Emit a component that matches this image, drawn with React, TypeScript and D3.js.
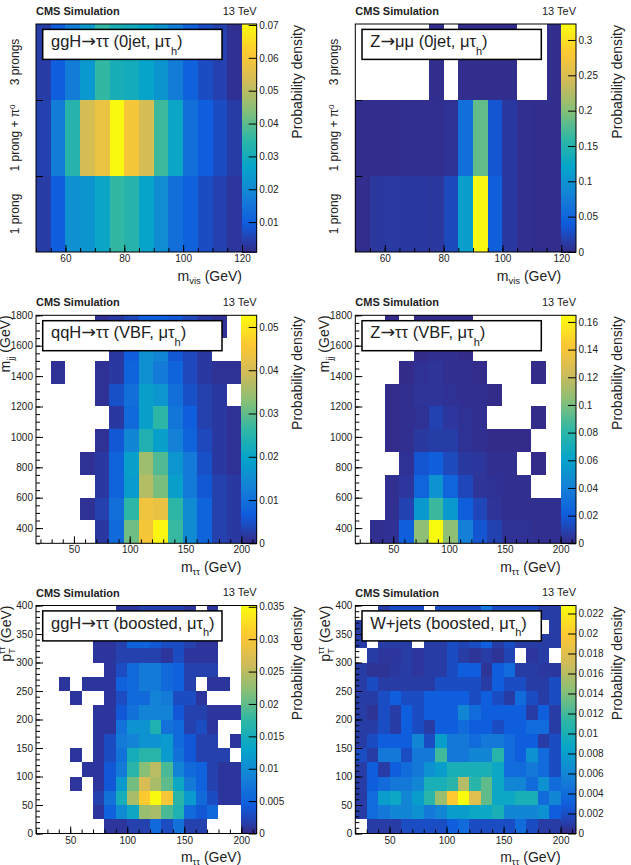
import * as d3 from "d3";
import { useEffect, useRef } from "react";

const FONT = "'Liberation Sans', Arial, sans-serif";

// ROOT's kBird palette
const birdStops = [
  "#352a87", "#0f5cdd", "#1481d6", "#06a4ca", "#2eb7a4",
  "#87bf77", "#d1bb59", "#fec832", "#f9fb0e",
];

const prongLabels = ["1 prong", "1 prong + π", "3 prongs"];

// every grid is written bottom row first, 0 means an empty (white) bin
const ggh0jet = [
  [.004, .010, .022, .023, .028, .036, .034, .027, .021, .014, .011, .007, .005, .003],
  [.005, .017, .034, .054, .058, .070, .060, .054, .037, .028, .014, .010, .007, .004],
  [.004, .010, .017, .024, .036, .031, .030, .027, .023, .017, .011, .007, .005, .002],
];

const zmm0jet = [
  [.003, .011, .013, .012, .012, .011, .025, .115, .32, .045, .012, .004, .003, .003],
  [.003, .003, .003, .004, .004, .004, .006, .06, .185, .035, .012, .004, .003, .003],
  [0, 0, 0, 0, 0, .003, 0, .003, .003, .003, .003, 0, 0, .003],
];

const qqhVbf = [
  [0, 0, 0, 0, .002, .009, .031, .045, .052, .027, .015, .008, .003, .002],
  [0, 0, 0, .001, .003, .010, .026, .044, .043, .026, .015, .008, .003, .002],
  [0, 0, 0, 0, .002, .008, .018, .037, .032, .019, .012, .006, .003, .002],
  [0, 0, 0, .001, .002, .008, .019, .035, .029, .017, .012, .005, .002, .001],
  [0, 0, 0, 0, .001, .006, .014, .024, .019, .013, .008, .004, .002, .001],
  [0, 0, 0, 0, 0, .002, .009, .019, .026, .011, .007, .003, .002, .001],
  [0, 0, 0, 0, .001, .005, .010, .019, .017, .010, .005, .003, .002, 0],
  [0, .001, 0, 0, .001, .002, .008, .016, .012, .008, .004, .002, .001, .001],
  [0, 0, 0, 0, 0, .002, .007, .016, .014, .006, .004, .002, 0, 0],
  [0, 0, 0, 0, .001, .002, .004, .007, .007, .006, .004, .002, .001, 0],
];

const zttVbf = [
  [0, .002, .003, .022, .105, .165, .105, .040, .018, .010, .003, .003, .002, .002],
  [0, 0, .002, .010, .055, .085, .055, .022, .012, .004, .002, .002, .002, .002],
  [0, 0, .002, .005, .025, .052, .025, .012, .004, .003, .002, .002, 0, 0],
  [0, 0, 0, .003, .018, .023, .013, .006, .005, .002, .002, 0, .001, 0],
  [0, 0, .001, .002, .006, .008, .008, .003, .002, .001, .001, .001, 0, 0],
  [0, 0, .001, .002, .003, .010, .005, .003, .002, 0, 0, 0, .001, 0],
  [0, 0, .001, .002, .004, .004, .003, .002, .002, .001, 0, 0, 0, 0],
  [0, 0, 0, .001, .003, .004, .002, .002, .001, 0, 0, 0, .001, 0],
  [0, 0, 0, 0, .001, .002, .002, .001, 0, 0, 0, 0, 0, 0],
  [0, 0, .001, 0, .001, .001, .001, .001, 0, 0, 0, 0, 0, 0],
];

const gghBoosted = [
  [0, 0, 0, 0, 0, 0, .001, .001, .002, .002, .006, .003, .007, .002, .002, 0, 0, 0],
  [0, 0, 0, 0, 0, .001, .005, .010, .014, .023, .024, .019, .016, .006, .004, .006, 0, 0],
  [0, 0, 0, 0, 0, .002, .007, .015, .024, .031, .035, .030, .017, .012, .006, .003, .001, .001],
  [0, 0, 0, .001, 0, .001, .004, .012, .021, .027, .024, .020, .014, .008, .005, .002, .001, .001],
  [0, 0, 0, 0, .001, .001, .004, .008, .017, .022, .025, .019, .009, .006, .005, .002, .001, .001],
  [0, 0, 0, .001, 0, .001, .003, .007, .015, .017, .017, .012, .007, .004, .002, .002, .002, 0],
  [0, 0, 0, 0, 0, .001, .003, .008, .009, .011, .011, .012, .006, .004, .002, .002, 0, .001],
  [0, 0, 0, 0, 0, .001, .001, .007, .011, .011, .016, .007, .006, .002, .003, .001, 0, 0],
  [0, 0, 0, 0, 0, .001, .001, .004, .007, .009, .009, .009, .004, .002, .002, .001, .001, .001],
  [0, 0, 0, .001, 0, 0, .001, .003, .006, .006, .009, .008, .003, .003, .001, 0, 0, 0],
  [0, 0, .001, 0, .001, .001, .001, .005, .006, .008, .008, .006, .005, .002, 0, .001, .001, 0],
  [0, 0, 0, 0, 0, 0, .001, .003, .006, .008, .008, .006, .005, .002, .002, .002, 0, 0],
  [0, 0, 0, 0, 0, .001, .001, .002, .002, .002, .002, .001, .003, .001, .001, .001, 0, 0],
  [0, 0, 0, 0, 0, .001, .001, .002, .005, .005, .004, .003, .003, .002, .001, .001, 0, 0],
  [0, 0, 0, 0, 0, .001, .001, .002, .002, .003, .003, .002, .002, .001, .001, .001, 0, 0],
  [0, 0, 0, 0, 0, 0, 0, .001, .001, .002, .002, .002, .002, .001, 0, .001, 0, 0],
];

const wjetsBoosted = [
  [0, .001, .001, .001, .002, .002, .002, .002, .003, .004, .002, .002, .002, .002, .004, .002, .001, .001],
  [.001, .004, .005, .006, .006, .007, .005, .006, .008, .008, .009, .009, .010, .006, .006, .006, .007, .003],
  [.001, .004, .008, .009, .006, .008, .011, .015, .020, .0228, .018, .013, .009, .009, .010, .010, .004, .006],
  [.001, .003, .004, .005, .005, .006, .010, .010, .011, .016, .011, .013, .009, .006, .006, .004, .007, .004],
  [.001, .003, .001, .003, .004, .005, .007, .008, .010, .010, .010, .010, .009, .004, .004, .005, .004, .002],
  [.002, .001, .005, .005, .002, .005, .005, .012, .005, .005, .006, .006, .011, .004, .003, .007, .004, .002],
  [.001, .002, .003, .003, .003, .006, .002, .008, .005, .005, .004, .005, .005, .004, .003, .003, .001, .002],
  [.001, .001, .002, .001, .003, .002, .001, .003, .003, .004, .003, .003, .002, .003, .003, .004, .004, .001],
  [.001, .0005, .002, .001, .003, .002, .003, .003, .003, .006, .004, .003, .003, .003, .003, .001, .003, .001],
  [.001, .001, .002, .003, .002, .002, .003, .003, .003, .003, .002, .003, .002, .001, .004, .002, .001, .002],
  [.001, .002, .001, .001, .001, .001, .001, .002, .002, .002, .002, .001, .003, .002, .002, .001, .001, .002],
  [.001, .0005, .0005, .0008, .001, .0007, .001, .001, .002, .003, .003, .0006, .003, .004, .001, .001, .0008, .0008],
  [0, .001, .0007, .0007, .001, .0007, .001, .001, .002, .001, .0006, .001, .0005, .0015, 0, .0007, .001, 0],
  [.001, 0, .001, .001, .001, 0, .001, .001, .002, .0015, .002, .003, .001, .002, .001, .001, .001, .001],
  [.001, .001, .001, .001, .002, .002, .002, .002, .002, .002, .002, .002, .002, .002, .002, .002, 0, .001],
  [0, 0, .001, .002, .002, .002, 0, .002, .002, .002, .002, .005, .002, .002, .002, .002, .001, .001],
];

const panelLefts = [36, 355.3];
const panelTops = [24, 315.3, 605.5];
const panelWidth = 220.7;
const panelHeight = 228;

const massAxis = {
  xDomain: [16, 213.8],
  xEdges: [16, 200],
  xTicks: [50, 100, 150, 200],
  xMinor: d3.range(20, 211, 10),
};
const boostedAxis = {
  xDomain: [20, 213.5],
  xEdges: [20, 200],
  xTicks: [50, 100, 150, 200],
  xMinor: d3.range(20, 211, 10),
};
const visAxis = {
  xDomain: [50, 125],
  xEdges: [50, 120],
  xTicks: [60, 80, 100, 120],
  xMinor: d3.range(50, 125, 5),
};
const mjjAxis = {
  yDomain: [300, 1800],
  yTicks: d3.range(400, 1801, 200),
  yMinor: d3.range(300, 1801, 50),
};
const ptAxis = {
  yDomain: [0, 400],
  yTicks: d3.range(0, 401, 50),
  yMinor: d3.range(0, 401, 10),
};
const prongAxis = { yDomain: [0, 3], yTicks: [1, 2], yMinor: [] as number[] };

const panels = [
  { col: 0, row: 0, grid: ggh0jet, title: ["ggH", "→", "ττ (0jet, μτ"], xName: "vis", zDomain: [0.0009, 0.0703], zTicks: d3.range(0.01, 0.0701, 0.01), ...visAxis, ...prongAxis },
  { col: 1, row: 0, grid: zmm0jet, title: ["Z", "→", "μμ (0jet, μτ"], xName: "vis", zDomain: [0, 0.3226], zTicks: d3.range(0, 0.301, 0.05), ...visAxis, ...prongAxis },
  { col: 0, row: 1, grid: qqhVbf, title: ["qqH", "→", "ττ (VBF, μτ"], xName: "ττ", yName: "jj", zDomain: [0, 0.0527], zTicks: d3.range(0, 0.0501, 0.01), ...massAxis, ...mjjAxis },
  { col: 1, row: 1, grid: zttVbf, title: ["Z", "→", "ττ (VBF, μτ"], xName: "ττ", yName: "jj", zDomain: [0, 0.1648], zTicks: d3.range(0, 0.1601, 0.02), ...massAxis, ...mjjAxis },
  { col: 0, row: 2, grid: gghBoosted, title: ["ggH", "→", "ττ (boosted, μτ"], xName: "ττ", yName: "pt", zDomain: [0, 0.0352], zTicks: d3.range(0, 0.0351, 0.005), ...boostedAxis, ...ptAxis },
  { col: 1, row: 2, grid: wjetsBoosted, title: ["W+jets (boosted, μτ"], xName: "ττ", yName: "pt", zDomain: [0, 0.0228], zTicks: d3.range(0, 0.0221, 0.002), ...boostedAxis, ...ptAxis },
];

const fmt = (t: number) => String(+t.toFixed(4));

function select(node: SVGGElement | null) {
  return d3.select(node as SVGGElement) as any;
}

function Axes({ p, x, y, z }: any) {
  const bottom = useRef<SVGGElement>(null);
  const bottomMinor = useRef<SVGGElement>(null);
  const left = useRef<SVGGElement>(null);
  const leftMinor = useRef<SVGGElement>(null);
  const right = useRef<SVGGElement>(null);
  useEffect(() => {
    const style = (g: any) => {
      g.select(".domain").remove();
      g.attr("font-family", FONT).attr("font-size", 10);
      g.selectAll("line").attr("stroke", "#000").attr("stroke-width", 1);
      g.selectAll("text").attr("fill", "#222");
    };
    select(bottom.current).call(d3.axisBottom(x).tickValues(p.xTicks).tickFormat(fmt as any).tickSize(-7).tickPadding(3)).call(style);
    select(bottomMinor.current).call(d3.axisBottom(x).tickValues(p.xMinor).tickFormat((() => "") as any).tickSize(-4)).call(style);
    const yAxis = d3.axisLeft(y).tickValues(p.yTicks).tickFormat((p.row === 0 ? () => "" : fmt) as any).tickSize(-7).tickPadding(3);
    select(left.current).call(yAxis).call(style);
    select(leftMinor.current).call(d3.axisLeft(y).tickValues(p.yMinor).tickFormat((() => "") as any).tickSize(-4)).call(style);
    select(right.current).call(d3.axisRight(z).tickValues(p.zTicks).tickFormat(fmt as any).tickSize(-8).tickPadding(2.5)).call(style);
  }, [p, x, y, z]);

  return (
    <>
      <g ref={bottomMinor} transform={`translate(0,${panelHeight})`} />
      <g ref={bottom} transform={`translate(0,${panelHeight})`} />
      <g ref={leftMinor} />
      <g ref={left} />
      <g ref={right} transform={`translate(${panelWidth},0)`} />
    </>
  );
}

function Panel({ p }: { p: (typeof panels)[number] }) {
  const x = d3.scaleLinear().domain(p.xDomain).range([0, panelWidth]);
  const y = d3.scaleLinear().domain(p.yDomain).range([panelHeight, 0]);
  const z = d3.scaleLinear().domain(p.zDomain).range([panelHeight, 0]);
  const color = d3
    .scaleLinear<string>()
    .domain(birdStops.map((_, i) => p.zDomain[0] + ((p.zDomain[1] - p.zDomain[0]) * i) / 8))
    .range(birdStops)
    .clamp(true);

  const nCols = p.grid[0].length;
  const nRows = p.grid.length;
  const xEdge = d3.scaleLinear().domain([0, nCols]).range(p.xEdges);
  const yEdge = d3.scaleLinear().domain([0, nRows]).range(p.yDomain);
  const zSteps = d3.range(120).map((i) => p.zDomain[0] + ((p.zDomain[1] - p.zDomain[0]) * i) / 120);
  const zStep = (p.zDomain[1] - p.zDomain[0]) / 120;
  const paletteX = x(p.xEdges[1]);

  const boxTop = 5.4;

  return (
    <g transform={`translate(${panelLefts[p.col]},${panelTops[p.row]})`}>
      {p.grid.map((cells, r) =>
        cells.map((v, c) =>
          v > 0 ? (
            <rect
              key={`${r}-${c}`}
              x={x(xEdge(c))}
              y={y(yEdge(r + 1))}
              width={x(xEdge(c + 1)) - x(xEdge(c))}
              height={y(yEdge(r)) - y(yEdge(r + 1))}
              fill={color(v)}
              shapeRendering="crispEdges"
            />
          ) : null,
        ),
      )}
      {zSteps.map((v) => (
        <rect
          key={v}
          x={paletteX}
          y={z(v + zStep)}
          width={panelWidth - paletteX}
          height={z(v) - z(v + zStep) + 0.5}
          fill={color(v + zStep / 2)}
          shapeRendering="crispEdges"
        />
      ))}
      <Axes p={p} x={x} y={y} z={z} />
      <rect width={panelWidth} height={panelHeight} fill="none" stroke="#000" strokeWidth={1} />

      <rect x={6.7} y={boxTop} width={179.3} height={30} fill="#fff" stroke="#000" strokeWidth={1.5} />
      <text x={15} y={boxTop + 17.6} fontSize={16.5} fontFamily={FONT} fill="#222">
        {p.title[0]}
        {p.title.length > 1 && (
          <>
            <tspan fontFamily="'DejaVu Sans'" fontSize={17.5}>{p.title[1]}</tspan>
            <tspan>{p.title[2]}</tspan>
          </>
        )}
        <tspan dy={7.5} fontSize={11}>h</tspan>
        <tspan dy={-7.5}>)</tspan>
      </text>

      <text x={0} y={-9} fontSize={11} fontWeight="bold" fontFamily={FONT} fill="#222">CMS Simulation</text>
      <text x={panelWidth} y={-9.5} textAnchor="end" fontSize={11} fontFamily={FONT} fill="#222">13 TeV</text>

      <text x={paletteX} y={panelHeight + 28.5} textAnchor="end" fontSize={14} fontFamily={FONT} fill="#222">
        m<tspan dy={3} fontSize={9.5}>{p.xName}</tspan>
        <tspan dy={-3}> (GeV)</tspan>
      </text>
      <text
        transform={`translate(${panelWidth + 45.5},1) rotate(-90)`}
        textAnchor="end"
        fontSize={14}
        fontFamily={FONT}
        fill="#222"
      >
        Probability density
      </text>

      {p.row === 0 &&
        prongLabels.map((label, i) => (
          <text
            key={label}
            transform={`translate(-17,${y(i + 0.5)}) rotate(-90)`}
            textAnchor="middle"
            fontSize={12}
            fontFamily={FONT}
            fill="#222"
          >
            {label}
            {i === 1 && <tspan dy={-4} fontSize={8}>0</tspan>}
          </text>
        ))}
      {p.yName === "jj" && (
        <text transform="translate(-26,0) rotate(-90)" textAnchor="end" fontSize={14} fontFamily={FONT} fill="#222">
          m<tspan dy={3.5} fontSize={9.5}>jj</tspan>
          <tspan dy={-3.5}> (GeV)</tspan>
        </text>
      )}
      {p.yName === "pt" && (
        <text transform="translate(-25.5,0) rotate(-90)" textAnchor="end" fontSize={14} fontFamily={FONT} fill="#222">
          p<tspan dy={4} fontSize={9.5}>T</tspan>
          <tspan dy={-10} dx={-6} fontSize={9.5}>ττ</tspan>
          <tspan dy={6}> (GeV)</tspan>
        </text>
      )}
    </g>
  );
}

export default function App() {
  return (
    <svg
      width={631}
      height={865}
      style={{ position: "absolute", left: 0, top: 0, background: "#fff" }}
    >
      {panels.map((p) => (
        <Panel key={p.title.join("")} p={p} />
      ))}
    </svg>
  );
}
